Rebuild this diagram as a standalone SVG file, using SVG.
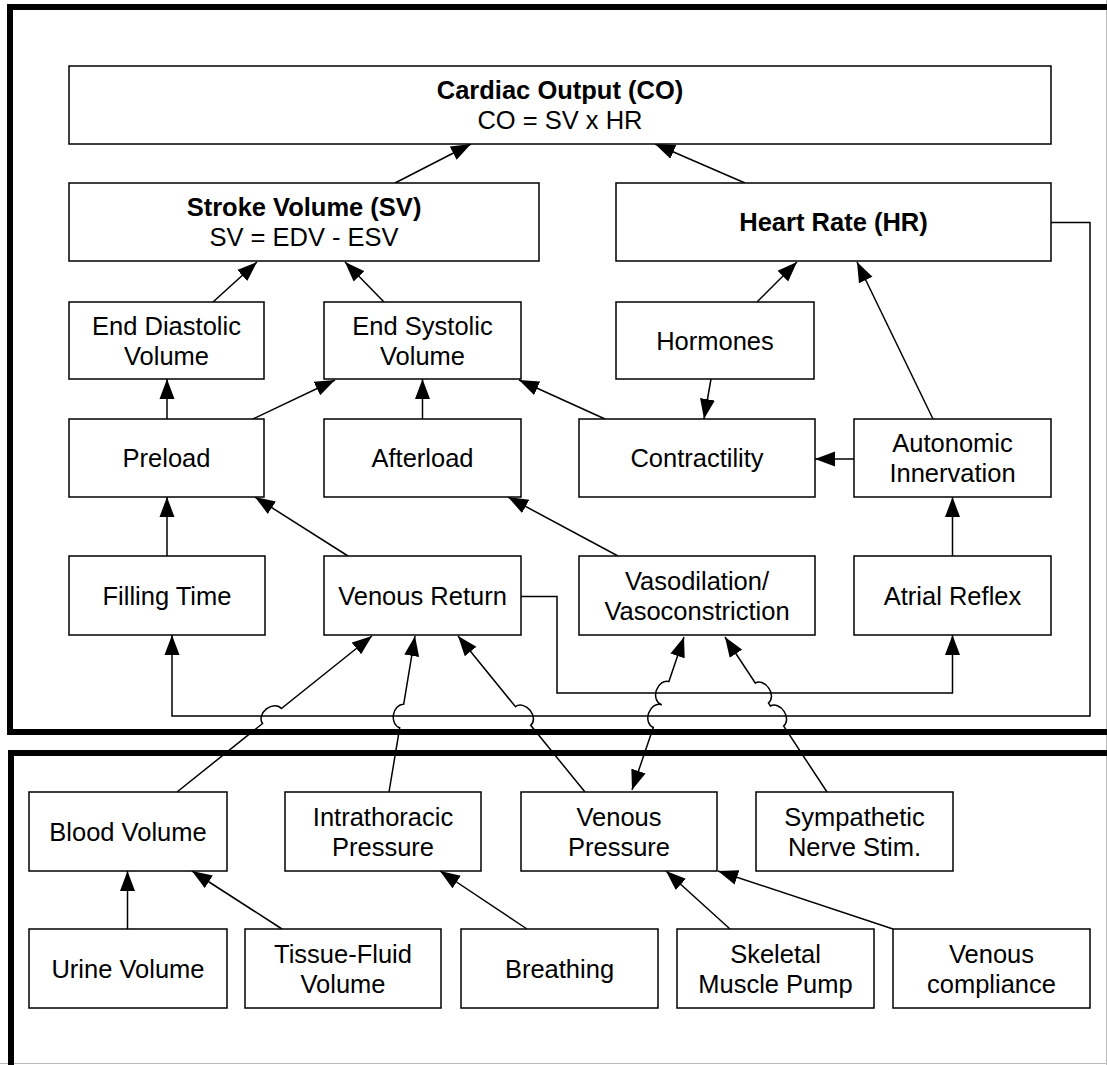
<svg xmlns="http://www.w3.org/2000/svg" width="1107" height="1065" viewBox="0 0 1107 1065">
<style>
.box{fill:#fff;stroke:#000;stroke-width:1.5}
.t{font-family:"Liberation Sans",Arial,Helvetica,sans-serif;font-size:25.5px;text-anchor:middle;fill:#000}
.b{font-weight:bold}
.c{fill:none;stroke:#000;stroke-width:1.5}
.cont{fill:none;stroke:#000;stroke-width:6}
</style>
<defs>
<marker id="ah" markerUnits="userSpaceOnUse" markerWidth="20" markerHeight="16" refX="20" refY="7.5" orient="auto-start-reverse" viewBox="0 0 20 15">
<path d="M0,0 L20,7.5 L0,15 Z" fill="#000"/>
</marker>
</defs>
<rect width="1107" height="1065" fill="#fff"/>
<line x1="1106.5" y1="0" x2="1106.5" y2="1065" stroke="#bbb" stroke-width="1"/>
<line x1="0" y1="1063.5" x2="1107" y2="1063.5" stroke="#bbb" stroke-width="1"/>
<g id="containers">
<rect class="cont" x="10" y="7" width="1110" height="725"/>
<rect class="cont" x="11" y="753" width="1110" height="330"/>
</g>
<g id="connectors">
<path class="c" marker-end="url(#ah)" d="M395,183 L471,144"/>
<path class="c" marker-end="url(#ah)" d="M745,183 L655,144"/>
<path class="c" marker-end="url(#ah)" d="M213,302 L257,262"/>
<path class="c" marker-end="url(#ah)" d="M384,302 L345,262"/>
<path class="c" marker-end="url(#ah)" d="M757,302 L797,262"/>
<path class="c" marker-end="url(#ah)" d="M933,419 L857,262"/>
<path class="c" marker-end="url(#ah)" d="M167,419 L167,379"/>
<path class="c" marker-end="url(#ah)" d="M253,419 L335,380"/>
<path class="c" marker-end="url(#ah)" d="M422.5,419 L422.5,379"/>
<path class="c" marker-end="url(#ah)" d="M605,419 L519,380"/>
<path class="c" marker-end="url(#ah)" d="M711,379 L704,419"/>
<path class="c" marker-end="url(#ah)" d="M854,459 L815,459"/>
<path class="c" marker-end="url(#ah)" d="M167,556 L167,497"/>
<path class="c" marker-end="url(#ah)" d="M348,556 L255,497"/>
<path class="c" marker-end="url(#ah)" d="M618,556 L508,497"/>
<path class="c" marker-end="url(#ah)" d="M952.5,556 L952.5,497"/>
<path class="c" marker-end="url(#ah)" d="M521,596.5 L557,596.5 L557,693 L952.5,693 L952.5,635"/>
<path class="c" marker-end="url(#ah)" d="M1051,222.5 L1090,222.5 L1090,716 L172,716 L172,635"/>
<path class="c" marker-end="url(#ah)" d="M177,792 L262.6,723.5 A12,9 -38.66 0 1 281.4,708.5 L372,636"/>
<path class="c" marker-end="url(#ah)" d="M389,792 L399.7,727.8 A12,9 -80.54 0 1 403.7,704.2 L415,636"/>
<path class="c" marker-end="url(#ah)" d="M585,792 L530.7,725.3 A12,9 -129.15 0 0 515.5,706.7 L458,636"/>
<path class="c" marker-start="url(#ah)" marker-end="url(#ah)" d="M632,790 L653.3,727.4 A12,9 -71.23 0 1 661.1,704.6 L661.1,704.4 A12,9 -71.23 0 1 668.9,681.6 L684,637"/>
<path class="c" marker-end="url(#ah)" d="M827,792 L783.6,726 A12,9 -123.35 0 0 770.4,706 L768.45,703 A12,9 -123.35 0 0 755.25,683 L725,637"/>
<path class="c" marker-end="url(#ah)" d="M127.5,929 L127.5,871"/>
<path class="c" marker-end="url(#ah)" d="M282,929 L192,871"/>
<path class="c" marker-end="url(#ah)" d="M527,929 L440,871"/>
<path class="c" marker-end="url(#ah)" d="M730,929 L666,871"/>
<path class="c" marker-end="url(#ah)" d="M893,929 L718,871"/>
</g>
<g id="co"><rect class="box" x="69" y="66" width="982" height="78"/><text class="t b" x="560" y="99">Cardiac Output (CO)</text><text class="t" x="560" y="129">CO = SV x HR</text></g>
<g id="sv"><rect class="box" x="69" y="183" width="470" height="78"/><text class="t b" x="304" y="216">Stroke Volume (SV)</text><text class="t" x="304" y="246">SV = EDV - ESV</text></g>
<g id="hr"><rect class="box" x="616" y="183" width="435" height="78"/><text class="t b" x="833.5" y="231">Heart Rate (HR)</text></g>
<g id="edv"><rect class="box" x="69" y="302" width="195" height="77"/><text class="t" x="166.5" y="334.5">End Diastolic</text><text class="t" x="166.5" y="364.5">Volume</text></g>
<g id="esv"><rect class="box" x="324" y="302" width="197" height="77"/><text class="t" x="422.5" y="334.5">End Systolic</text><text class="t" x="422.5" y="364.5">Volume</text></g>
<g id="hormones"><rect class="box" x="616" y="302" width="198" height="77"/><text class="t" x="715" y="349.5">Hormones</text></g>
<g id="preload"><rect class="box" x="69" y="419" width="195" height="78"/><text class="t" x="166.5" y="467">Preload</text></g>
<g id="afterload"><rect class="box" x="324" y="419" width="197" height="78"/><text class="t" x="422.5" y="467">Afterload</text></g>
<g id="contractility"><rect class="box" x="579" y="419" width="236" height="78"/><text class="t" x="697" y="467">Contractility</text></g>
<g id="autonomic"><rect class="box" x="854" y="419" width="197" height="78"/><text class="t" x="952.5" y="452">Autonomic</text><text class="t" x="952.5" y="482">Innervation</text></g>
<g id="filling"><rect class="box" x="69" y="556" width="196" height="79"/><text class="t" x="167" y="604.5">Filling Time</text></g>
<g id="venousreturn"><rect class="box" x="324" y="556" width="197" height="79"/><text class="t" x="422.5" y="604.5">Venous Return</text></g>
<g id="vaso"><rect class="box" x="579" y="556" width="236" height="79"/><text class="t" x="697" y="589.5">Vasodilation/</text><text class="t" x="697" y="619.5">Vasoconstriction</text></g>
<g id="atrial"><rect class="box" x="854" y="556" width="197" height="79"/><text class="t" x="952.5" y="604.5">Atrial Reflex</text></g>
<g id="blood"><rect class="box" x="29" y="792" width="198" height="79"/><text class="t" x="128" y="840.5">Blood Volume</text></g>
<g id="intrathoracic"><rect class="box" x="285" y="792" width="196" height="79"/><text class="t" x="383" y="825.5">Intrathoracic</text><text class="t" x="383" y="855.5">Pressure</text></g>
<g id="venouspressure"><rect class="box" x="521" y="792" width="196" height="79"/><text class="t" x="619" y="825.5">Venous</text><text class="t" x="619" y="855.5">Pressure</text></g>
<g id="sympathetic"><rect class="box" x="756" y="792" width="197" height="79"/><text class="t" x="854.5" y="825.5">Sympathetic</text><text class="t" x="854.5" y="855.5">Nerve Stim.</text></g>
<g id="urine"><rect class="box" x="29" y="929" width="198" height="79"/><text class="t" x="128" y="977.5">Urine Volume</text></g>
<g id="tissue"><rect class="box" x="245" y="929" width="196" height="79"/><text class="t" x="343" y="962.5">Tissue-Fluid</text><text class="t" x="343" y="992.5">Volume</text></g>
<g id="breathing"><rect class="box" x="461" y="929" width="197" height="79"/><text class="t" x="559.5" y="977.5">Breathing</text></g>
<g id="skeletal"><rect class="box" x="677" y="929" width="197" height="79"/><text class="t" x="775.5" y="962.5">Skeletal</text><text class="t" x="775.5" y="992.5">Muscle Pump</text></g>
<g id="compliance"><rect class="box" x="893" y="929" width="197" height="79"/><text class="t" x="991.5" y="962.5">Venous</text><text class="t" x="991.5" y="992.5">compliance</text></g>
</svg>
